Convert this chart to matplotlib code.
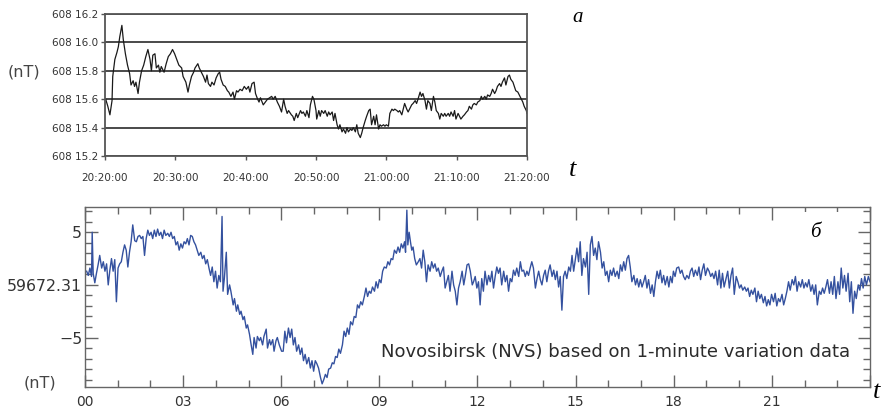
import matplotlib
matplotlib.use("Agg")
import matplotlib.pyplot as plt
from matplotlib.ticker import MultipleLocator
from matplotlib.patches import Rectangle

# panel a: total field, 20:20 - 21:20, minutes after 20:20
top_base = 60815.0
top_min = [0.1, 0.4, 0.7, 1.0, 1.1, 1.4, 1.7, 1.9, 2.1, 2.4,
           2.6, 2.9, 3.2, 3.5, 3.7, 4.0, 4.2, 4.4, 4.7, 4.9,
           5.2, 5.5, 5.8, 6.1, 6.4, 6.6, 6.8, 7.1, 7.3, 7.6,
           7.8, 8.0, 8.4, 8.7, 9.0, 9.3, 9.6, 9.9, 10.2, 10.5,
           10.9, 11.1, 11.5, 11.8, 12.0, 12.3, 12.6, 12.8, 13.2, 13.4,
           13.7, 14.0, 14.3, 14.5, 14.7, 15.0, 15.2, 15.5, 15.8, 16.1,
           16.3, 16.5, 16.8, 17.1, 17.4, 17.6, 17.9, 18.2, 18.4, 18.7,
           18.9, 19.2, 19.5, 19.8, 20.1, 20.4, 20.6, 20.9, 21.2, 21.4,
           21.7, 21.9, 22.1, 22.5, 22.8, 23.1, 23.4, 23.7, 23.9, 24.2,
           24.5, 24.8, 25.1, 25.4, 25.6, 25.9, 26.1, 26.5, 26.7, 26.9,
           27.2, 27.4, 27.8, 28.0, 28.2, 28.5, 28.7, 29.0, 29.2, 29.5,
           29.7, 30.0,
           30.1, 30.4, 30.6, 30.8, 31.1, 31.3, 31.6, 31.8, 32.0, 32.3,
           32.5, 32.7, 33.0, 33.2, 33.4, 33.7, 33.9, 34.2, 34.4, 34.6,
           34.9, 35.1, 35.3, 35.6, 35.8, 36.0, 36.3, 36.5, 36.7, 37.0,
           37.2, 37.5, 37.7, 37.9, 38.2, 38.4, 38.6, 38.9, 39.1, 39.3,
           39.6, 39.8, 40.0, 40.3, 40.5, 40.8, 41.0, 41.2, 41.5, 41.7,
           41.9, 42.2, 42.4, 42.6, 42.9, 43.1, 43.3, 43.6, 43.8, 44.1,
           44.3, 44.5, 44.8, 45.0, 45.2, 45.5, 45.7, 45.9, 46.2, 46.4,
           46.7, 46.9, 47.1, 47.4, 47.6, 47.8, 48.1, 48.3, 48.5, 48.8,
           49.0, 49.2, 49.5, 49.7, 49.9, 50.2, 50.4, 50.6, 50.9, 51.1,
           51.4, 51.6, 51.8, 52.1, 52.3, 52.5, 52.8, 53.0, 53.3, 53.5,
           53.7, 54.0, 54.2, 54.4, 54.7, 54.9, 55.1, 55.4, 55.6, 55.8,
           56.1, 56.3, 56.5, 56.8, 57.0, 57.3, 57.5, 57.7, 58.0, 58.2,
           58.4, 58.7, 58.9, 59.2, 59.4, 59.6, 59.9, 60.0]
top_dev = [.60, .55, .49, .59, .76, .88, .93, .97, 1.04, 1.12,
           1.02, .92, .84, .78, .70, .73, .69, .72, .64, .72,
           .80, .84, .90, .95, .88, .80, .91, .92, .82, .84,
           .79, .83, .79, .85, .90, .92, .95, .92, .88, .84,
           .82, .76, .72, .65, .70, .76, .79, .82, .85, .82,
           .79, .76, .72, .77, .71, .69, .72, .70, .75, .78,
           .79, .74, .70, .69, .66, .65, .62, .65, .60, .66,
           .65, .67, .66, .69, .67, .69, .65, .71, .72, .64,
           .60, .58, .61, .56, .58, .60, .61, .62, .60, .62,
           .58, .55, .51, .60, .55, .50, .52, .49, .48, .45,
           .50, .47, .52, .50, .51, .48, .52, .47, .56, .62,
           .60, .52,
           .46, .52, .48, .52, .50, .52, .48, .51, .49, .51,
           .45, .50, .42, .39, .42, .37, .39, .36, .40, .37,
           .39, .38, .40, .37, .42, .36, .33, .36, .40, .45,
           .48, .52, .53, .42, .48, .42, .49, .39, .42, .41,
           .42, .41, .42, .41, .50, .53, .52, .53, .52, .51,
           .52, .49, .53, .57, .53, .51, .53, .56, .57, .59,
           .57, .60, .65, .62, .64, .59, .53, .59, .57, .52,
           .62, .58, .52, .50, .46, .50, .48, .50, .48, .50,
           .48, .51, .48, .52, .46, .50, .48, .46, .48, .49,
           .51, .52, .55, .53, .56, .57, .56, .58, .59, .62,
           .60, .62, .60, .63, .62, .64, .67, .64, .66, .69,
           .71, .69, .72, .75, .70, .76, .77, .74, .72, .69,
           .66, .65, .63, .60, .58, .55, .52, .50]
top_xticks = [0, 10, 20, 30, 40, 50, 60]
top_xlabels = ["20:20:00", "20:30:00", "20:40:00", "20:50:00",
               "21:00:00", "21:10:00", "21:20:00"]
top_yticks = [60815.2, 60815.4, 60815.6, 60815.8, 60816.0, 60816.2]
top_ylabels = ["608 15.2", "608 15.4", "608 15.6", "608 15.8",
               "608 16.0", "608 16.2"]

# panel b: Novosibirsk, hours UT, nT relative to 59672.31
nvs_hours = [0.05, 0.10, 0.15, 0.20, 0.22, 0.25, 0.30, 0.35, 0.40, 0.45,
             0.51, 0.56, 0.61, 0.66, 0.71, 0.76, 0.81, 0.86, 0.91, 0.96,
             1.01, 1.06, 1.11, 1.16, 1.21, 1.26, 1.31, 1.36, 1.41, 1.46,
             1.52, 1.57, 1.62, 1.67, 1.72, 1.77, 1.82, 1.87, 1.92, 1.97,
             2.02, 2.07, 2.12, 2.17, 2.22, 2.27, 2.32, 2.37, 2.42, 2.47,
             2.53, 2.58, 2.63, 2.68, 2.73, 2.78, 2.83, 2.88, 2.93, 2.98,
             3.03, 3.08, 3.13, 3.18, 3.23, 3.28, 3.33, 3.38, 3.43, 3.48,
             3.54, 3.59, 3.64, 3.69, 3.74, 3.79, 3.84, 3.89, 3.94, 3.99,
             4.04, 4.09, 4.14, 4.19, 4.22, 4.26, 4.32, 4.36, 4.42, 4.46,
             4.53, 4.57, 4.63, 4.67, 4.73, 4.77, 4.83, 4.87, 4.93, 4.97,
             5.03, 5.08, 5.13, 5.17, 5.23, 5.27, 5.33, 5.37, 5.43, 5.47,
             5.54, 5.58, 5.64, 5.68, 5.74, 5.78, 5.84, 5.88, 5.94, 6.01,
             6.06, 6.11, 6.16, 6.22, 6.27, 6.32, 6.37, 6.42, 6.47, 6.53,
             6.58, 6.63, 6.68, 6.73, 6.78, 6.84, 6.89, 6.94, 6.99, 7.04,
             7.09, 7.14, 7.20, 7.25, 7.30, 7.35, 7.40, 7.45, 7.51, 7.56,
             7.61, 7.66, 7.71, 7.76, 7.81, 7.87, 7.92, 7.97, 8.02, 8.07,
             8.12, 8.18, 8.23, 8.28, 8.33, 8.38, 8.43, 8.48, 8.54, 8.59,
             8.64, 8.69, 8.74, 8.79, 8.85, 8.90, 8.95, 9.00, 9.05, 9.10,
             9.15, 9.21, 9.26, 9.31, 9.36, 9.41, 9.46, 9.52, 9.57, 9.62,
             9.67, 9.72, 9.77, 9.80, 9.84, 9.87, 9.91, 9.95, 9.99, 10.03,
             10.08, 10.13, 10.19, 10.24, 10.29, 10.34, 10.39, 10.44, 10.49, 10.55,
             10.60, 10.65, 10.70, 10.75, 10.80, 10.86, 10.91, 10.96, 11.01, 11.06,
             11.11, 11.16, 11.22, 11.27, 11.32, 11.37, 11.42, 11.47, 11.53, 11.58,
             11.63, 11.68, 11.73, 11.78, 11.84,
             11.88, 11.93, 11.98, 12.03, 12.08, 12.13, 12.18, 12.23, 12.29, 12.34,
             12.39, 12.44, 12.49, 12.54, 12.59, 12.64, 12.69, 12.74, 12.80, 12.85,
             12.90, 12.95, 13.00, 13.05, 13.10, 13.15, 13.20, 13.26, 13.31, 13.36,
             13.41, 13.46, 13.51, 13.56, 13.61, 13.66, 13.71, 13.77, 13.82, 13.87,
             13.92, 13.97, 14.02, 14.07, 14.12, 14.17, 14.22, 14.28, 14.33, 14.38,
             14.43, 14.48, 14.53, 14.58, 14.63, 14.68, 14.73, 14.79, 14.84, 14.89,
             14.94, 14.99, 15.04, 15.09, 15.14, 15.19, 15.24, 15.30, 15.35, 15.40,
             15.45, 15.50, 15.55, 15.60, 15.65, 15.70, 15.76, 15.81, 15.86, 15.91,
             15.96, 16.01, 16.06, 16.11, 16.16, 16.21, 16.27, 16.32, 16.37, 16.42,
             16.47, 16.52, 16.57, 16.62, 16.67, 16.72, 16.78, 16.83, 16.88, 16.93,
             16.98, 17.03, 17.08, 17.13, 17.18, 17.23, 17.29, 17.34, 17.39, 17.44,
             17.49, 17.54, 17.59, 17.64, 17.69, 17.74, 17.80, 17.85, 17.90, 17.95,
             17.99, 18.04, 18.09, 18.15, 18.20, 18.25, 18.30, 18.35, 18.40, 18.46,
             18.51, 18.56, 18.61, 18.66, 18.72, 18.77, 18.82, 18.87, 18.92, 18.97,
             19.03, 19.08, 19.13, 19.18, 19.23, 19.28, 19.34, 19.39, 19.44, 19.49,
             19.54, 19.60, 19.65, 19.70, 19.75, 19.80, 19.85, 19.91, 19.96, 20.01,
             20.06, 20.11, 20.17, 20.22, 20.27, 20.32, 20.37, 20.42, 20.48, 20.53,
             20.58, 20.63, 20.68, 20.74, 20.79, 20.84, 20.89, 20.94, 20.99, 21.05,
             21.10, 21.15, 21.20, 21.25, 21.31, 21.36, 21.41, 21.46, 21.51, 21.56,
             21.62, 21.67, 21.72, 21.77, 21.82, 21.88, 21.93, 21.98, 22.03, 22.08,
             22.13, 22.19, 22.24, 22.29, 22.34, 22.39, 22.45, 22.50, 22.55, 22.60,
             22.65, 22.70, 22.76, 22.81, 22.86, 22.91, 22.96, 23.02, 23.07, 23.12,
             23.17, 23.22, 23.27, 23.33, 23.38, 23.43, 23.48, 23.53, 23.58, 23.64,
             23.69, 23.74, 23.79, 23.84, 23.89, 23.95, 24.00]
nvs_dev = [1.3, 0.9, 1.6, 0.8, 5.0, 1.1, 0.2, 1.1, 1.9, 2.8,
           1.6, 2.2, 1.3, 2.0, 0.0, 1.4, 2.5, 1.3, 2.4, -1.6,
           1.6, 2.0, 2.2, 3.1, 3.8, 3.3, 1.7, 3.1, 4.1, 5.7,
           4.2, 4.1, 4.6, 4.7, 4.4, 4.6, 2.8, 4.4, 5.2, 4.7,
           5.0, 4.4, 5.2, 4.6, 5.3, 4.7, 5.0, 4.4, 5.2, 4.7,
           4.9, 4.6, 5.0, 4.4, 4.6, 3.8, 4.1, 3.3, 3.9, 3.5,
           4.1, 3.9, 4.4, 3.8, 4.7, 4.6, 4.1, 3.8, 3.3, 2.8,
           3.1, 2.5, 2.8, 2.0, 2.4, 1.6, 0.9, 1.7, 0.3, 1.3,
           -0.3, 0.9, 0.3, 6.5, -0.6, 0.6, 3.1, -0.9, 0.0, -0.6,
           -1.9, -1.3, -2.5, -1.9, -2.8, -2.5, -3.3, -3.0, -4.1, -3.8,
           -4.7, -5.7, -6.6, -5.0, -6.0, -4.9, -5.3, -5.0, -5.7, -4.9,
           -4.2, -6.0, -5.2, -5.7, -5.2, -6.3, -5.3, -5.0, -5.7, -6.3,
           -6.3, -4.4, -5.5, -4.1, -5.0, -4.2, -5.7, -5.0, -6.3, -5.7,
           -6.6, -6.0, -7.2, -6.6, -7.5, -6.9, -7.9, -7.2, -8.2, -7.2,
           -7.5, -7.9, -8.8, -9.4, -9.0, -8.5, -8.8, -8.0, -7.9, -7.4,
           -7.5, -6.8, -6.9, -6.1, -6.5, -5.7, -4.4, -4.9, -4.1, -4.7,
           -3.5, -3.8, -3.0, -3.1, -1.9, -2.2, -1.6, -1.9, -1.1, -0.3,
           -1.1, -0.6, -0.8, -0.2, -0.6, 0.3, -0.3, 0.5, 0.2, 1.3,
           1.7, 1.6, 2.2, 1.9, 2.5, 2.4, 3.3, 3.0, 3.6, 3.1,
           3.9, 3.5, 4.1, 3.1, 7.1, 3.8, 5.0, 4.1, 3.3, 3.6,
           2.5, 1.9, 2.2, 2.5, 1.6, 3.3, 2.2, 0.3, 1.9, 1.3,
           2.2, 1.6, 2.0, 1.3, 1.6, 0.8, 1.3, 1.7, -0.3, 0.3,
           0.9, -0.6, 1.3, 0.0, -0.6, -1.9, -0.3, 0.3, 1.3, 0.0,
           0.9, 1.9, 2.0, 1.3, 0.0,
           0.3, 0.8, -0.3, 0.3, -1.9, 0.6, -0.6, 1.3, 0.0, 0.9,
           0.3, 1.3, -0.3, 0.8, 1.7, 1.1, 1.6, 0.0, 1.3, 0.3,
           0.9, -0.6, 0.6, 0.3, 1.4, 0.9, 1.6, 0.8, 2.2, 1.3,
           1.4, 0.8, 1.3, 0.9, 1.6, 2.2, 1.6, -0.3, 0.6, 1.3,
           0.5, 0.0, 0.9, 1.4, 0.3, 1.3, 1.9, 0.8, 1.4, 0.5,
           1.3, -0.2, 0.8, -2.4, 0.8, 1.3, 0.6, 1.7, 1.3, 2.8,
           1.3, 2.4, 3.5, 2.2, 4.1, 0.9, 2.5, 1.7, 3.1, -0.9,
           3.8, 4.6, 2.8, 3.5, 2.4, 4.1, 3.1, 1.6, 2.2, 0.9,
           1.3, 0.3, 1.4, 0.9, 1.6, 0.8, 1.3, 0.6, 1.9, 1.3,
           2.2, 1.4, 2.5, 2.8, 1.7, 0.3, 0.9, 0.0, 0.6, -0.2,
           0.5, -0.2, 0.3, 0.9, -0.3, 0.5, -0.8, 0.0, -1.1, 0.3,
           1.3, 0.6, 1.4, 0.2, 0.9, 0.0, 0.8, -0.2, 0.8, 0.2,
           1.3, 0.8, 1.6, 1.7, 1.1, 1.4, 0.8, 0.5, 0.9, 0.6,
           1.3, 1.6, 0.8, 1.4, 0.9, 1.7, 0.5, 1.4, 2.0, 0.9,
           1.6, 1.3, 0.8, 1.1, 0.6, 1.3, 0.0, 1.4, -0.3, 1.1,
           -0.2, 0.6, 1.3, -0.3, 0.9, 1.6, -0.9, 0.8, 0.3, -0.3,
           0.0, -0.5, -0.2, -0.6, -0.3, -1.1, -0.5, -0.9, -0.3, -1.6,
           -0.6, -1.3, -0.9, -1.7, -1.1, -2.0, -1.4, -1.9, -0.9, -1.6,
           -0.8, -2.0, -1.3, -1.6, -0.9, -1.9, -1.3, -0.6, 0.3, -0.5,
           0.5, 0.0, 0.8, -0.6, 0.3, -0.2, 0.5, -0.3, 0.2, -0.2,
           0.5, -0.6, 0.0, -0.9, 0.0, -1.9, -0.6, -0.9, -0.3, -0.8,
           -0.2, 0.5, -0.8, 0.3, -0.9, 0.8, -1.3, 0.3, -0.9, 1.6,
           -0.3, 0.9, -0.6, 1.1, -1.6, 0.3, -2.7, -0.6, -1.3, 0.0,
           -0.5, 0.6, -0.3, 0.8, 0.0, 0.8, 0.3]
nvs_xticks = [0, 3, 6, 9, 12, 15, 18, 21, 24]
nvs_xlabels = ["00", "03", "06", "09", "12", "15", "18", "21", ""]
nvs_yticks = [-5, 0, 5]
nvs_ylabels = ["\u22125", "59672.31", "5"]

W, H = 884, 409
fig = plt.figure(figsize=(W / 100, H / 100), dpi=100)
serif = ["Liberation Serif", "DejaVu Serif"]

# ---- panel a ----
ax1 = fig.add_axes([105 / W, 1 - 156 / H, 422 / W, 142 / H])
ax1.plot(top_min, [top_base + d for d in top_dev], color="#1a1a1a", lw=0.9)
ax1.set_xlim(0, 60)
ax1.set_ylim(60815.2, 60816.2)
ax1.set_xticks(top_xticks, top_xlabels)
ax1.set_yticks(top_yticks, top_ylabels)
ax1.grid(axis="y", color="#4a4a4a", lw=1.4)
ax1.set_axisbelow(True)
for s in ax1.spines.values():
    s.set_color("#555555")
    s.set_linewidth(1.3)
ax1.tick_params(direction="out", length=3, width=1, color="#555555",
                labelsize=7.5, labelcolor="#333333")
ax1.tick_params(axis="x", pad=9)
ax1.tick_params(axis="y", pad=2)

fig.text(24 / W, 1 - 72 / H, "(nT)", ha="center", va="center",
         fontsize=11.5, color="#444444")
fig.text(578 / W, 1 - 17 / H, "\u0430", ha="center", va="center",
         fontsize=15, style="italic", family=serif)
fig.text(573 / W, 1 - 170 / H, "t", ha="center", va="center",
         fontsize=19, style="italic", family=serif)

# ---- panel b ----
ax2 = fig.add_axes([85 / W, 1 - 387 / H, 785 / W, 180 / H])
ax2.plot(nvs_hours, nvs_dev, color="#34519f", lw=1.0)
ax2.set_xlim(0, 24)
ax2.set_ylim(-9.7, 7.4)
ax2.set_xticks(nvs_xticks, nvs_xlabels)
ax2.set_yticks(nvs_yticks, nvs_ylabels)
ax2.xaxis.set_minor_locator(MultipleLocator(1))
ax2.yaxis.set_minor_locator(MultipleLocator(1))
for s in ax2.spines.values():
    s.set_color("#666666")
    s.set_linewidth(1.0)
ax2.tick_params(which="both", direction="in", top=True, right=True,
                color="#666666", width=1)
ax2.tick_params(which="major", length=9, labelsize=10, labelcolor="#333333")
ax2.tick_params(which="minor", length=5)
ax2.tick_params(axis="x", pad=6)
ax2.tick_params(axis="y", pad=2, labelsize=11.3)

ax2.text(0.975, 0.194, "Novosibirsk (NVS) based on 1-minute variation data",
         transform=ax2.transAxes, ha="right", va="center",
         fontsize=13, color="#2b2b2b")
ax2.add_patch(Rectangle((0.892, 0.66), 0.07, 0.31, transform=ax2.transAxes,
                        facecolor="white", edgecolor="none", zorder=3))
ax2.text(0.93, 0.86, "\u0431", transform=ax2.transAxes, ha="center",
         va="center", fontsize=15, style="italic", family=serif, zorder=4)

fig.text(40 / W, 1 - 383 / H, "(nT)", ha="center", va="center",
         fontsize=11.5, color="#444444")
fig.text(877 / W, 1 - 392 / H, "t", ha="center", va="center",
         fontsize=19, style="italic", family=serif)

fig.savefig("out.png", dpi=100, facecolor="white")
